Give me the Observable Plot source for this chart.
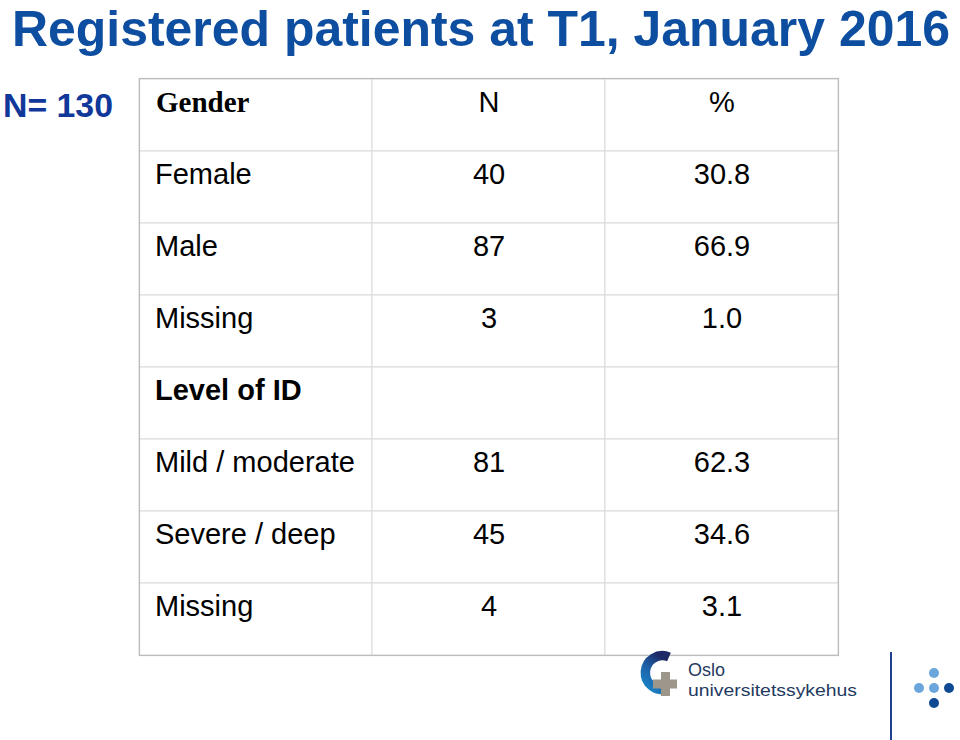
<!DOCTYPE html>
<html>
<head>
<meta charset="utf-8">
<script src="https://cdn.jsdelivr.net/npm/d3@7"></script>
<script src="https://cdn.jsdelivr.net/npm/@observablehq/plot@0.6"></script>
<style>
  html, body { margin: 0; padding: 0; background: #ffffff; }
  #wrap { position: relative; width: 960px; height: 740px; overflow: hidden; background: #fff; }
  #chart { position: absolute; left: 0; top: 0; }
  #overlay { position: absolute; left: 0; top: 0; pointer-events: none; }
</style>
</head>
<body>
<div id="wrap">
  <div id="chart"></div>
  <svg id="overlay" width="960" height="740" xmlns="http://www.w3.org/2000/svg">
    <defs>
      <linearGradient id="ringGrad" x1="0" y1="1" x2="0.6" y2="0">
        <stop offset="0" stop-color="#1b86c8"/>
        <stop offset="0.55" stop-color="#1d5ea6"/>
        <stop offset="1" stop-color="#1e2a66"/>
      </linearGradient>
    </defs>
    <text x="12" y="46" font-family="'Liberation Sans Narrow','Liberation Sans',Arial,sans-serif" font-weight="bold" font-size="50.5" fill="#0e4ea0" textLength="938" lengthAdjust="spacingAndGlyphs">Registered patients at T1, January 2016</text>
    <text x="3" y="117" font-family="'Liberation Sans',Arial,sans-serif" font-weight="bold" font-size="33" fill="#10389a" textLength="110" lengthAdjust="spacingAndGlyphs">N= 130</text>
    <!-- logo -->
    <path d="M 669 657 A 17 17 0 1 0 667 689" fill="none" stroke="url(#ringGrad)" stroke-width="9.5"/>
    <rect x="661" y="672" width="9" height="24" fill="#9d968a"/>
    <rect x="653" y="679.5" width="24" height="9" fill="#9d968a"/>
    <text x="688" y="676" font-family="'Liberation Sans',Arial,sans-serif" font-size="18" fill="#1f3a5f">Oslo</text>
    <text x="688" y="696" font-family="'Liberation Sans',Arial,sans-serif" font-size="17" fill="#1f3a5f" textLength="169" lengthAdjust="spacingAndGlyphs">universitetssykehus</text>
    <line x1="891" y1="652" x2="891" y2="740" stroke="#1f3f8f" stroke-width="2"/>
    <circle cx="934" cy="673" r="5" fill="#6aa6db"/>
    <circle cx="919" cy="688" r="5" fill="#6aa6db"/>
    <circle cx="934" cy="688" r="5" fill="#6aa6db"/>
    <circle cx="949" cy="688" r="5" fill="#0d4a93"/>
    <circle cx="934" cy="703" r="5" fill="#0d4a93"/>
  </svg>
</div>
<script>
// ---- data ----
const columns = ["label", "N", "%"];
const headerTexts = ["Gender", "N", "%"];
const rowLabels = ["Gender", "Female", "Male", "Missing", "Level of ID", "Mild / moderate", "Severe / deep", "Missing"];
const counts = [null, 40, 87, 3, null, 81, 45, 4];
const percents = [null, 30.8, 66.9, 1.0, null, 62.3, 34.6, 3.1];
const boldSansRows = [4];     // "Level of ID"
const headerRows = [0];       // "Gender" header row

// ---- derived tables ----
const rows = d3.range(rowLabels.length);
const cells = rows.flatMap(r => columns.map(c => ({row: r, col: c})));

const labelPlain = rows.filter(r => !headerRows.includes(r) && !boldSansRows.includes(r))
  .map(r => ({row: r, col: "label", text: rowLabels[r]}));
const labelBoldSans = boldSansRows.map(r => ({row: r, col: "label", text: rowLabels[r]}));
const labelHeader = headerRows.map(r => ({row: r, col: "label", text: headerTexts[0]}));

const headerValues = headerRows.flatMap(r => [
  {row: r, col: "N", text: headerTexts[1]},
  {row: r, col: "%", text: headerTexts[2]}
]);
const valueCells = rows.flatMap(r => [
  counts[r] == null ? null : {row: r, col: "N", text: String(counts[r])},
  percents[r] == null ? null : {row: r, col: "%", text: percents[r].toFixed(1)}
]).filter(d => d);

const sans = "'Liberation Sans', Arial, Helvetica, sans-serif";
const serif = "'Liberation Serif', 'Times New Roman', Times, serif";
const fs = 29;
const common = {x: "col", y: "row", text: "text", lineAnchor: "bottom", dy: -3.5, fontSize: fs, fill: "#000"};
const labelShift = {textAnchor: "start", dx: -101};

const chart = Plot.plot({
  width: 960,
  height: 740,
  marginLeft: 139,
  marginRight: 122,
  marginTop: 78,
  marginBottom: 85,
  style: {background: "transparent"},
  x: {type: "band", domain: columns, padding: 0, axis: null},
  y: {type: "band", domain: rows, padding: 0, axis: null},
  marks: [
    Plot.cell(cells, {x: "col", y: "row", fill: "#ffffff", stroke: "#dadada", strokeWidth: 1, inset: 0}),
    Plot.frame({stroke: "#bdbdbd", strokeWidth: 1.2}),
    Plot.text(labelHeader, {...common, ...labelShift, dx: -100, fontFamily: serif, fontWeight: "bold"}),
    Plot.text(labelBoldSans, {...common, ...labelShift, fontFamily: sans, fontWeight: "bold"}),
    Plot.text(labelPlain, {...common, ...labelShift, fontFamily: sans}),
    Plot.text(headerValues, {...common, fontFamily: sans}),
    Plot.text(valueCells, {...common, fontFamily: sans})
  ]
});
document.getElementById("chart").appendChild(chart);
</script>
</body>
</html>
